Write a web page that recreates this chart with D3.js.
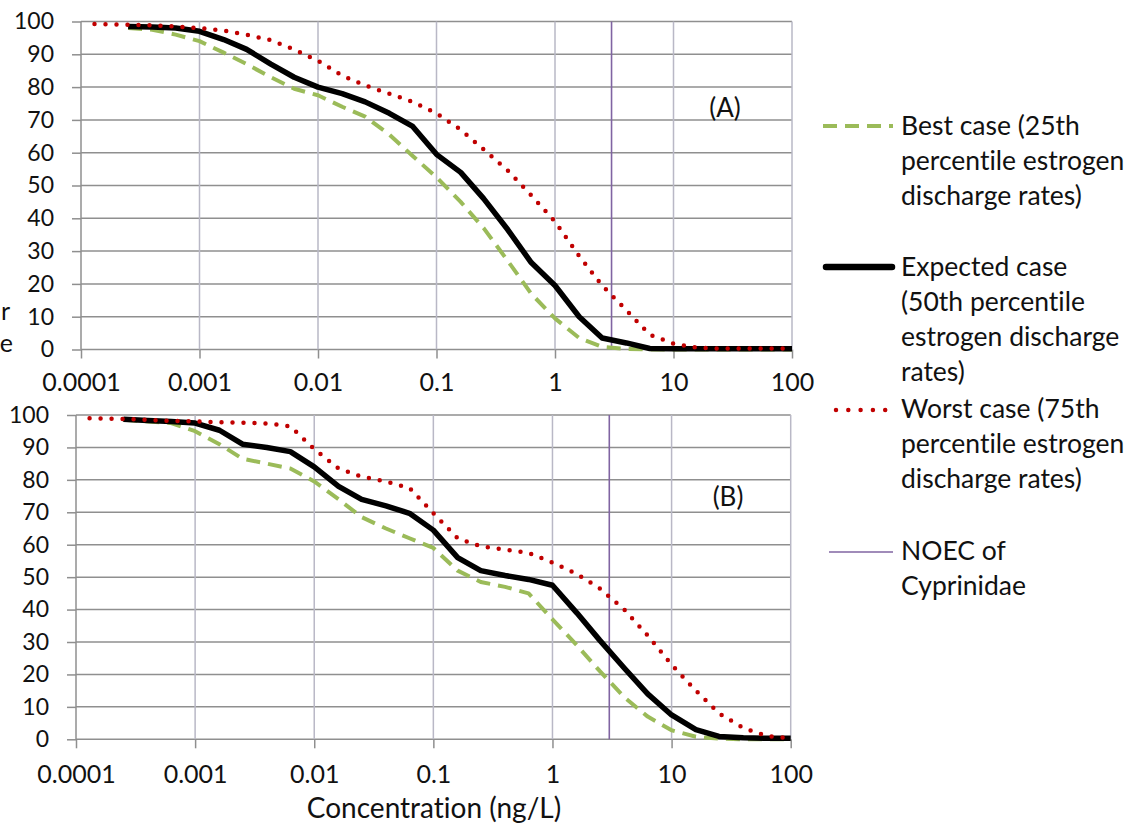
<!DOCTYPE html>
<html>
<head>
<meta charset="utf-8">
<script src="https://cdn.jsdelivr.net/npm/d3@7"></script>
<style>
  body { margin: 0; background: #fff; }
  text { font-family: Lato, "Open Sans", sans-serif; fill: #111; font-variant-ligatures: none; }
</style>
</head>
<body>
<svg id="chart" width="1136" height="836"></svg>
<script>
// Concentration grid (ng/L) shared by the best / expected cases
const concentrations = [0.00025, 0.0004, 0.00063, 0.001, 0.0016, 0.0025, 0.004, 0.0063,
  0.01, 0.016, 0.025, 0.04, 0.063, 0.1, 0.16, 0.25, 0.4, 0.63, 1, 1.6, 2.5, 4, 6.3,
  10, 16, 25, 40, 63, 100];
// Worst case starts a little further left
const worstConcentrations = [0.00013, 0.00025, 0.0004, 0.00063, 0.001, 0.0016, 0.0025, 0.004, 0.0063,
  0.01, 0.016, 0.025, 0.04, 0.063, 0.1, 0.16, 0.25, 0.4, 0.63, 1, 1.6, 2.5, 4, 6.3,
  10, 16, 25, 40, 63, 100];

// Panel (A)
const bestA = [98, 97.5, 96, 94, 90.5, 87, 83, 79.5, 77.5, 74, 71, 65.5, 59, 52.5, 45, 37,
  27, 17, 9.5, 3.5, 0.8, 0.2, 0, 0, 0, 0, 0, 0, 0];
const expectedA = [98.5, 98.3, 98, 97, 94.5, 91.5, 87, 83, 80, 78, 75.5, 72, 68, 59.5, 54, 46,
  36.5, 26.5, 19.5, 10, 3.5, 2, 0.3, 0.2, 0.2, 0.2, 0.2, 0.2, 0.2];
const worstA = [99.2, 99, 98.8, 98.5, 98, 97.2, 96, 94.3, 91.5, 88, 83.5, 80.5, 78, 75.5, 72,
  67, 61, 54.5, 47, 39, 28.5, 19.5, 12, 4.5, 1.8, 0.5, 0.3, 0.3, 0.3, 0.3];

// Panel (B)
const bestB = [98.5, 98, 97.5, 95, 91, 86.5, 85, 83.5, 79.5, 74, 68.5, 65, 62, 59, 52, 48.5,
  47, 45, 37, 29, 21, 13, 7, 2.8, 0.8, 0.2, 0, 0, 0];
const expectedB = [98.7, 98.3, 98, 97.5, 95.3, 91, 90, 88.7, 84, 78, 74, 72, 69.7, 64.5, 56, 52,
  50.5, 49.3, 47.5, 39, 30.5, 22, 14, 7.5, 3, 0.9, 0.5, 0.3, 0.3];
const worstB = [99, 98.8, 98.5, 98.2, 98, 97.8, 97.6, 97.4, 96.5, 89.5, 83.5, 81, 79.5, 77.5,
  69.7, 62, 59.5, 58.5, 57.5, 54.5, 51, 46.5, 40, 32, 23, 15, 8, 3.5, 1, 0.3];

const xTicks = [0.0001, 0.001, 0.01, 0.1, 1, 10, 100];
const xTickLabels = ["0.0001", "0.001", "0.01", "0.1", "1", "10", "100"];
const yTicks = [0, 10, 20, 30, 40, 50, 60, 70, 80, 90, 100];
const noecValue = 3;
const panelNames = ["(A)", "(B)"];
const xTitle = "Concentration (ng/L)";
const legendLabels = [
  ["Best case (25th", "percentile estrogen", "discharge rates)"],
  ["Expected case", "(50th percentile", "estrogen discharge", "rates)"],
  ["Worst case (75th", "percentile estrogen", "discharge rates)"],
  ["NOEC of", "Cyprinidae"]
];

const colors = { best: "#9bbb59", expected: "#000000", worst: "#c00000", noec: "#8064a2" };
const styles = {
  best: { color: colors.best, width: 4, dash: "14,8", cap: "butt" },
  expected: { color: colors.expected, width: 5.5, dash: null, cap: "butt" },
  worst: { color: colors.worst, width: 4.5, dash: "0,11", cap: "round" },
  noec: { color: colors.noec, width: 1.6, dash: null, cap: "butt" }
};

const svg = d3.select("#chart");

const panels = [
  { box: { left: 81, right: 792, top: 21.5, bottom: 349.5 }, tickLabelY: 391,
    labelPos: [725, 117], best: bestA, expected: expectedA, worst: worstA },
  { box: { left: 76, right: 790.7, top: 415, bottom: 739.3 }, tickLabelY: 783,
    labelPos: [728, 506], best: bestB, expected: expectedB, worst: worstB }
];

function applyStyle(sel, s) {
  sel.attr("fill", "none")
    .attr("stroke", s.color)
    .attr("stroke-width", s.width)
    .attr("stroke-linecap", s.cap)
    .attr("stroke-linejoin", "round");
  if (s.dash) sel.attr("stroke-dasharray", s.dash);
  return sel;
}

panels.forEach((p, i) => {
  const b = p.box;
  const x = d3.scaleLog().domain([0.0001, 100]).range([b.left, b.right]);
  const y = d3.scaleLinear().domain([0, 100]).range([b.bottom, b.top]);
  const g = svg.append("g");

  // horizontal gridlines
  g.append("g").selectAll("line").data(yTicks).join("line")
    .attr("x1", b.left).attr("x2", b.right)
    .attr("y1", d => y(d)).attr("y2", d => y(d))
    .attr("stroke", "#8f8f8f").attr("stroke-width", 1.5);

  // vertical gridlines (decades)
  g.append("g").selectAll("line").data(xTicks).join("line")
    .attr("x1", d => x(d)).attr("x2", d => x(d))
    .attr("y1", b.top).attr("y2", b.bottom)
    .attr("stroke", d => d === 0.0001 ? "#8f8f8f" : "#b9b8c6").attr("stroke-width", 1.5);

  // axes with outward ticks
  const yAxis = d3.axisLeft(y).tickValues(yTicks).tickSize(9).tickPadding(18)
    .tickFormat(d3.format("d"));
  const yg = g.append("g").attr("transform", `translate(${b.left},0)`).call(yAxis);
  yg.select(".domain").remove();
  yg.selectAll(".tick line").attr("stroke", "#8f8f8f").attr("stroke-width", 1.5);
  yg.selectAll(".tick text").attr("font-size", 23).attr("font-family", "Lato, sans-serif")
    .attr("fill", "#111");

  const xAxis = d3.axisBottom(x).tickValues(xTicks).tickSize(9)
    .tickFormat((d, k) => xTickLabels[k]);
  const xg = g.append("g").attr("transform", `translate(0,${b.bottom})`).call(xAxis);
  xg.select(".domain").remove();
  xg.selectAll(".tick line").attr("stroke", "#8f8f8f").attr("stroke-width", 1.5);
  xg.selectAll(".tick text").attr("font-size", 25).attr("font-family", "Lato, sans-serif")
    .attr("fill", "#111").attr("dy", null).attr("y", p.tickLabelY - b.bottom);

  // NOEC reference line
  applyStyle(g.append("line"), styles.noec)
    .attr("x1", x(noecValue)).attr("x2", x(noecValue))
    .attr("y1", b.top).attr("y2", b.bottom);

  const line = d3.line().x(d => x(d[0])).y(d => y(d[1]));
  applyStyle(g.append("path"), styles.best)
    .attr("d", line(concentrations.map((c, k) => [c, p.best[k]])));
  applyStyle(g.append("path"), styles.expected)
    .attr("d", line(concentrations.map((c, k) => [c, p.expected[k]])));
  applyStyle(g.append("path"), styles.worst)
    .attr("d", line(worstConcentrations.map((c, k) => [c, p.worst[k]])));

  g.append("text").attr("x", p.labelPos[0]).attr("y", p.labelPos[1])
    .attr("text-anchor", "middle").attr("font-size", 26).text(panelNames[i]);
});

// ends of the vertical axis caption at the left margin
svg.append("text").attr("x", 10).attr("y", 320).attr("text-anchor", "end")
  .attr("font-size", 25).text("r");
svg.append("text").attr("x", 13).attr("y", 352).attr("text-anchor", "end")
  .attr("font-size", 25).text("e");

// x-axis title
svg.append("text").attr("x", 434).attr("y", 818).attr("text-anchor", "middle")
  .attr("font-size", 28).text(xTitle);

// legend
const legendItems = [
  { style: styles.best, x1: 823, x2: 893, y: 126, textY: 135 },
  { style: Object.assign({}, styles.expected, { width: 6.5, cap: "round" }), x1: 826, x2: 892, y: 267, textY: 276 },
  { style: Object.assign({}, styles.worst, { dash: "0,12.3" }), x1: 836, x2: 886, y: 410, textY: 418 },
  { style: styles.noec, x1: 829, x2: 893, y: 552, textY: 560 }
];
const lg = svg.append("g");
legendItems.forEach((item, k) => {
  applyStyle(lg.append("line"), item.style)
    .attr("x1", item.x1).attr("x2", item.x2).attr("y1", item.y).attr("y2", item.y);
  const t = lg.append("text").attr("x", 901).attr("y", item.textY).attr("font-size", 26.5);
  legendLabels[k].forEach((s, j) => {
    t.append("tspan").attr("x", 901).attr("dy", j === 0 ? 0 : 35).text(s);
  });
});
</script>
</body>
</html>
